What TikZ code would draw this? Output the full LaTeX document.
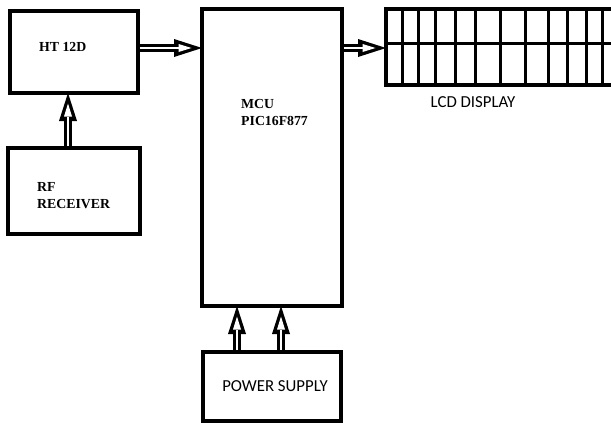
\documentclass[tikz,border=0pt]{standalone}
\usepackage{fontspec}
\setmainfont{Liberation Serif}
\newfontfamily\calib{Carlito}
\usetikzlibrary{arrows.meta}
\newcommand\hollowarrow[2]{%
  \draw[arrout] #1 -- #2;
  \draw[arrin] #1 -- #2;}
\begin{document}
\begin{tikzpicture}[x=1pt,y=-1pt,
  box/.style={draw, line width=3.2pt, outer sep=0pt, inner sep=0pt, rectangle},
  grid/.style={line width=3pt},
  bold/.style={font=\fontsize{13.8}{17}\selectfont\bfseries, inner sep=0pt, anchor=west, align=left},
  sans/.style={font=\calib\fontsize{16.8}{20}\selectfont, inner sep=0pt},
  arrout/.style={line width=8.5pt, -{Triangle[length=28pt,width=18pt,line width=0pt]}},
  arrin/.style={white, line width=2.5pt, shorten <=1.8pt, shorten >=10.5pt, -{Triangle[length=13pt,width=8pt,line width=0pt]}}]
\useasboundingbox (0,0) rectangle (611,423);
\node[box, minimum width=128pt, minimum height=82pt] (ht) at (74,52) {};
\node[box, minimum width=132pt, minimum height=86pt] (rf) at (74,191) {};
\node[box, minimum width=140pt, minimum height=297pt] (mcu) at (272,157.5) {};
\node[box, minimum width=138pt, minimum height=69pt] (ps) at (272,386.5) {};
\node[box, minimum width=240pt, minimum height=76pt, anchor=north west] (lcd) at (386,9) {};
\draw[grid] (lcd.west |- 0,43) -- (lcd.east |- 0,43);
\foreach \x in {402,418,435,455,475,500,525,548,567,586,602}
  \draw[grid] (lcd.north -| \x,0) -- (lcd.south -| \x,0);
\node[bold] (t1) at (39,46.5) {HT 12D};
\node[bold] (t2) at (37,195.5) {RF\\RECEIVER};
\node[bold] (t3) at (241,112.5) {MCU\\PIC16F877};
\node[sans] (t4) at (473,102) {LCD DISPLAY};
\node[sans] (t5) at (275,386.5) {POWER SUPPLY};
\hollowarrow{(ht.east |- 0,48)}{(mcu.west |- 0,48)}
\hollowarrow{(mcu.east |- 0,48)}{(lcd.west |- 0,48)}
\hollowarrow{(rf.north -| 68,0)}{(ht.south -| 68,0)}
\hollowarrow{(ps.north -| 237,0)}{(mcu.south -| 237,0)}
\hollowarrow{(ps.north -| 281,0)}{(mcu.south -| 281,0)}
\end{tikzpicture}
\end{document}
